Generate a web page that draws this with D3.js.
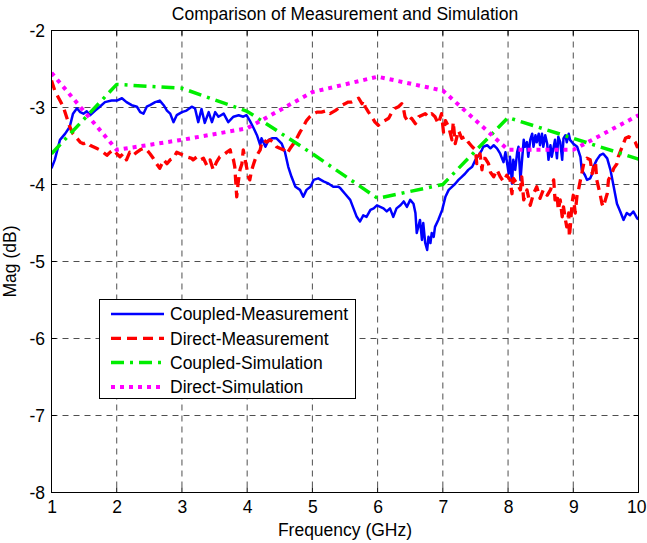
<!DOCTYPE html>
<html><head><meta charset="utf-8">
<script src="https://cdn.jsdelivr.net/npm/d3@7"></script>
<style>body{margin:0;background:#fff;}svg{display:block;font-family:"Liberation Sans",Arial,sans-serif;}</style>
</head><body>
<script>
const xTicks=[1,2,3,4,5,6,7,8,9,10];
const yTicks=[-2,-3,-4,-5,-6,-7,-8];
const seriesNames=["Coupled-Measurement","Direct-Measurement","Coupled-Simulation","Direct-Simulation"];
const seriesColors=["#0000ff","#ff0000","#00ee00","#ff00ff"];

const simFreq=[1,2,3,4,5,6,7,8,9,10];
const coupledSim=[-3.6,-2.7,-2.75,-3.05,-3.6,-4.18,-4.0,-3.13,-3.4,-3.67];
const directSim=[-2.55,-3.55,-3.42,-3.27,-2.8,-2.6,-2.78,-3.55,-3.55,-3.1];

const coupledMeasFreq=[1.00,1.05,1.13,1.21,1.28,1.33,1.39,1.44,1.49,1.54,1.59,1.67,1.74,1.82,1.92,2.00,2.08,2.15,2.23,2.31,2.36,2.41,2.46,2.51,2.59,2.66,2.72,2.77,2.82,2.87,2.92,3.00,3.07,3.15,3.20,3.25,3.30,3.35,3.41,3.46,3.51,3.56,3.64,3.71,3.79,3.87,3.94,3.99,4.04,4.10,4.15,4.20,4.22,4.28,4.33,4.38,4.45,4.53,4.58,4.63,4.68,4.74,4.81,4.86,4.91,4.97,5.02,5.09,5.17,5.25,5.32,5.40,5.43,5.50,5.58,5.63,5.68,5.73,5.78,5.83,5.89,5.94,5.99,6.04,6.09,6.14,6.19,6.24,6.29,6.35,6.40,6.45,6.50,6.55,6.58,6.60,6.65,6.68,6.70,6.73,6.76,6.78,6.81,6.83,6.86,6.88,6.93,6.99,7.04,7.09,7.14,7.19,7.24,7.29,7.34,7.39,7.45,7.50,7.55,7.60,7.62,7.68,7.73,7.78,7.83,7.88,7.93,7.96,8.01,8.03,8.06,8.08,8.11,8.14,8.16,8.19,8.21,8.24,8.26,8.29,8.31,8.34,8.37,8.39,8.42,8.44,8.47,8.49,8.52,8.54,8.57,8.60,8.62,8.65,8.67,8.70,8.72,8.75,8.77,8.80,8.83,8.85,8.88,8.90,8.93,8.95,9.00,9.06,9.11,9.13,9.18,9.21,9.26,9.29,9.31,9.36,9.41,9.46,9.52,9.57,9.62,9.67,9.72,9.77,9.82,9.87,9.92,9.98,10.00];
const coupledMeas=[-3.79,-3.68,-3.42,-3.34,-3.25,-3.08,-3.01,-3.06,-3.08,-3.05,-3.10,-3.04,-2.99,-2.93,-2.91,-2.91,-2.88,-2.93,-2.97,-2.99,-3.06,-3.08,-2.99,-2.97,-2.93,-2.91,-2.97,-3.04,-3.08,-3.19,-3.10,-3.06,-3.04,-2.99,-3.01,-3.19,-3.02,-3.20,-3.06,-3.19,-3.06,-3.12,-3.08,-3.19,-3.12,-3.10,-3.12,-3.10,-3.17,-3.27,-3.36,-3.49,-3.40,-3.51,-3.42,-3.40,-3.40,-3.47,-3.58,-3.77,-3.90,-4.03,-4.07,-4.16,-4.07,-4.03,-3.94,-3.92,-3.96,-3.99,-4.03,-4.03,-4.05,-4.12,-4.20,-4.31,-4.42,-4.48,-4.40,-4.42,-4.33,-4.31,-4.27,-4.29,-4.31,-4.35,-4.31,-4.42,-4.31,-4.27,-4.22,-4.29,-4.20,-4.25,-4.37,-4.63,-4.46,-4.72,-4.50,-4.76,-4.85,-4.68,-4.76,-4.63,-4.68,-4.55,-4.46,-4.33,-4.16,-4.07,-4.03,-3.99,-3.94,-3.90,-3.86,-3.81,-3.77,-3.68,-3.62,-3.55,-3.51,-3.49,-3.53,-3.49,-3.53,-3.60,-3.71,-3.58,-3.86,-3.64,-3.99,-3.68,-3.81,-3.58,-3.51,-3.94,-3.73,-3.42,-3.51,-3.45,-3.64,-3.42,-3.34,-3.51,-3.36,-3.45,-3.34,-3.49,-3.34,-3.51,-3.36,-3.47,-3.68,-3.49,-3.64,-3.51,-3.42,-3.66,-3.38,-3.45,-3.68,-3.40,-3.36,-3.45,-3.34,-3.42,-3.47,-3.51,-3.64,-3.81,-3.88,-3.94,-3.92,-3.86,-3.77,-3.68,-3.62,-3.60,-3.66,-3.81,-4.03,-4.25,-4.35,-4.46,-4.37,-4.40,-4.35,-4.44,-4.45];

const directMeasFreq=[1.00,1.05,1.13,1.18,1.23,1.28,1.33,1.39,1.44,1.49,1.54,1.59,1.64,1.69,1.74,1.79,1.85,1.90,1.95,2.00,2.05,2.10,2.15,2.20,2.25,2.31,2.36,2.41,2.46,2.51,2.56,2.61,2.66,2.72,2.77,2.82,2.87,2.92,2.97,3.02,3.07,3.15,3.17,3.23,3.28,3.33,3.38,3.43,3.48,3.53,3.58,3.63,3.69,3.74,3.76,3.79,3.81,3.84,3.86,3.89,3.92,3.94,3.97,3.99,4.02,4.04,4.07,4.10,4.12,4.15,4.20,4.22,4.25,4.30,4.35,4.40,4.45,4.50,4.56,4.61,4.66,4.71,4.76,4.81,4.86,4.91,4.96,5.02,5.07,5.14,5.22,5.27,5.35,5.40,5.45,5.50,5.55,5.60,5.65,5.71,5.76,5.78,5.81,5.86,5.91,5.96,6.01,6.06,6.11,6.17,6.22,6.27,6.32,6.37,6.40,6.42,6.47,6.52,6.58,6.63,6.68,6.73,6.78,6.83,6.88,6.93,6.98,7.01,7.04,7.09,7.14,7.16,7.19,7.24,7.29,7.34,7.39,7.45,7.50,7.52,7.57,7.60,7.62,7.65,7.70,7.73,7.78,7.83,7.88,7.93,7.98,8.03,8.06,8.08,8.14,8.19,8.21,8.24,8.29,8.34,8.39,8.44,8.49,8.54,8.60,8.65,8.70,8.72,8.75,8.77,8.80,8.83,8.85,8.88,8.90,8.93,8.94,8.96,8.98,9.00,9.03,9.06,9.08,9.11,9.13,9.16,9.21,9.26,9.29,9.31,9.34,9.36,9.41,9.44,9.46,9.52,9.54,9.59,9.62,9.67,9.69,9.75,9.80,9.85,9.90,9.95,9.98,10.00];
const directMeas=[-2.65,-2.78,-2.91,-2.99,-3.12,-3.25,-3.34,-3.40,-3.45,-3.47,-3.45,-3.49,-3.51,-3.53,-3.55,-3.58,-3.62,-3.58,-3.55,-3.60,-3.64,-3.60,-3.68,-3.58,-3.62,-3.58,-3.55,-3.53,-3.55,-3.60,-3.66,-3.73,-3.79,-3.68,-3.73,-3.68,-3.66,-3.58,-3.60,-3.62,-3.64,-3.66,-3.68,-3.64,-3.68,-3.66,-3.75,-3.68,-3.81,-3.71,-3.64,-3.62,-3.58,-3.55,-3.64,-3.68,-3.77,-4.16,-3.99,-3.81,-3.73,-3.55,-3.68,-3.77,-3.90,-3.94,-3.81,-3.73,-3.68,-3.62,-3.55,-3.47,-3.42,-3.45,-3.42,-3.45,-3.51,-3.53,-3.55,-3.60,-3.53,-3.47,-3.40,-3.32,-3.25,-3.17,-3.12,-3.08,-3.06,-3.06,-3.04,-3.08,-3.04,-3.01,-2.97,-2.95,-2.93,-2.93,-2.91,-2.88,-2.95,-2.91,-2.99,-3.06,-3.12,-3.19,-3.23,-3.19,-3.17,-3.14,-3.06,-3.01,-2.99,-2.95,-3.03,-3.12,-3.19,-3.14,-3.21,-3.12,-3.10,-3.08,-3.12,-3.08,-3.12,-3.21,-3.08,-3.32,-3.17,-3.25,-3.42,-3.19,-3.47,-3.30,-3.40,-3.38,-3.45,-3.51,-3.55,-3.73,-3.60,-3.81,-3.66,-3.66,-3.73,-3.84,-3.90,-3.81,-3.90,-3.96,-3.88,-3.94,-4.12,-3.92,-3.99,-4.07,-3.90,-4.20,-4.07,-4.27,-4.12,-4.03,-4.18,-4.07,-4.14,-4.07,-3.94,-4.20,-4.12,-4.33,-4.20,-4.42,-4.29,-4.46,-4.55,-4.37,-4.68,-4.50,-4.25,-4.14,-4.37,-4.12,-4.07,-3.94,-3.86,-3.73,-3.66,-3.68,-3.86,-3.77,-3.71,-3.94,-4.12,-4.25,-4.29,-4.12,-3.94,-3.86,-3.79,-3.73,-3.64,-3.51,-3.40,-3.38,-3.40,-3.45,-3.51,-3.50];

const W=647,H=543;
const m={l:51.5,r:638.5,t:30.5,b:492.5};
const svg=d3.select("body").append("svg").attr("width",W).attr("height",H);
const x=d3.scaleLinear().domain([1,10]).range([m.l,m.r]);
const y=d3.scaleLinear().domain([-8,-2]).range([m.b,m.t]);

svg.append("rect").attr("x",0).attr("y",0).attr("width",W).attr("height",H).attr("fill","#fff");

// grid
const grid=svg.append("g").attr("stroke","#222").attr("stroke-width",0.8).attr("stroke-dasharray","6,5");
xTicks.slice(1,-1).forEach(v=>grid.append("line").attr("x1",x(v)).attr("x2",x(v)).attr("y1",m.t).attr("y2",m.b));
yTicks.slice(1,-1).forEach(v=>grid.append("line").attr("y1",y(v)).attr("y2",y(v)).attr("x1",m.l).attr("x2",m.r));

// axes
const fs="17.5px";
const xAxis=d3.axisBottom(x).tickValues(xTicks).tickSize(0).tickPadding(8).tickFormat(d3.format("d"));
const yAxis=d3.axisLeft(y).tickValues(yTicks).tickSize(0).tickPadding(6.5).tickFormat(d=>String(d));
const gx=svg.append("g").attr("transform",`translate(0,${m.b})`).call(xAxis);
const gy=svg.append("g").attr("transform",`translate(${m.l},0)`).call(yAxis);
[gx,gy].forEach(g=>{g.select(".domain").remove();g.selectAll("text").attr("font-size",fs).attr("fill","#000").attr("font-family","Liberation Sans, Arial, sans-serif");});
gx.selectAll(".tick text").filter(d=>d===10).attr("text-anchor","end").attr("x",W-x(10)-1);

// ticks inward
const tk=svg.append("g").attr("stroke","#000").attr("stroke-width",1);
xTicks.forEach(v=>{tk.append("line").attr("x1",x(v)).attr("x2",x(v)).attr("y1",m.b).attr("y2",m.b-5);tk.append("line").attr("x1",x(v)).attr("x2",x(v)).attr("y1",m.t).attr("y2",m.t+5);});
yTicks.forEach(v=>{tk.append("line").attr("y1",y(v)).attr("y2",y(v)).attr("x1",m.l).attr("x2",m.l+5);tk.append("line").attr("y1",y(v)).attr("y2",y(v)).attr("x1",m.r).attr("x2",m.r-5);});

// lines
svg.append("clipPath").attr("id","c").append("rect").attr("x",m.l).attr("y",m.t).attr("width",m.r-m.l).attr("height",m.b-m.t);
const line=d3.line().x(d=>x(d[0])).y(d=>y(d[1]));
const series=[
 {f:coupledMeasFreq,v:coupledMeas,c:seriesColors[0],w:2.5,dash:null},
 {f:directMeasFreq,v:directMeas,c:seriesColors[1],w:3.3,dash:"10,6"},
 {f:simFreq,v:coupledSim,c:seriesColors[2],w:3.5,dash:"13,6,3,6"},
 {f:simFreq,v:directSim,c:seriesColors[3],w:4,dash:"4,5"}
];
const pl=svg.append("g").attr("clip-path","url(#c)");
series.forEach(s=>{
 const p=pl.append("path").datum(s.f.map((f,i)=>[f,s.v[i]])).attr("d",line).attr("fill","none").attr("stroke",s.c).attr("stroke-width",s.w).attr("stroke-linejoin","round");
 if(s.dash)p.attr("stroke-dasharray",s.dash);
});

// border
svg.append("rect").attr("x",m.l).attr("y",m.t).attr("width",m.r-m.l).attr("height",m.b-m.t).attr("fill","none").attr("stroke","#000").attr("stroke-width",1);

// legend
const lg=svg.append("g");
lg.append("rect").attr("x",99.5).attr("y",299.5).attr("width",256).attr("height",99).attr("fill","#fff").attr("stroke","#000").attr("stroke-width",1);
series.forEach((s,i)=>{
 const yy=314+i*24.3;
 const l=lg.append("line").attr("x1",111).attr("x2",164).attr("y1",yy).attr("y2",yy).attr("stroke",s.c).attr("stroke-width",s.w);
 if(s.dash)l.attr("stroke-dasharray",s.dash);
 lg.append("text").attr("x",170).attr("y",yy).attr("dy","0.36em").attr("font-size","17.5px").text(seriesNames[i]);
});

// titles
svg.append("text").attr("x",(m.l+m.r)/2).attr("y",19.5).attr("text-anchor","middle").attr("font-size","17.5px").text("Comparison of Measurement and Simulation");
svg.append("text").attr("x",(m.l+m.r)/2).attr("y",536).attr("text-anchor","middle").attr("font-size","17.5px").text("Frequency (GHz)");
svg.append("text").attr("transform",`translate(16,${(m.t+m.b)/2}) rotate(-90)`).attr("text-anchor","middle").attr("font-size","17.5px").text("Mag (dB)");
</script>
</body></html>
